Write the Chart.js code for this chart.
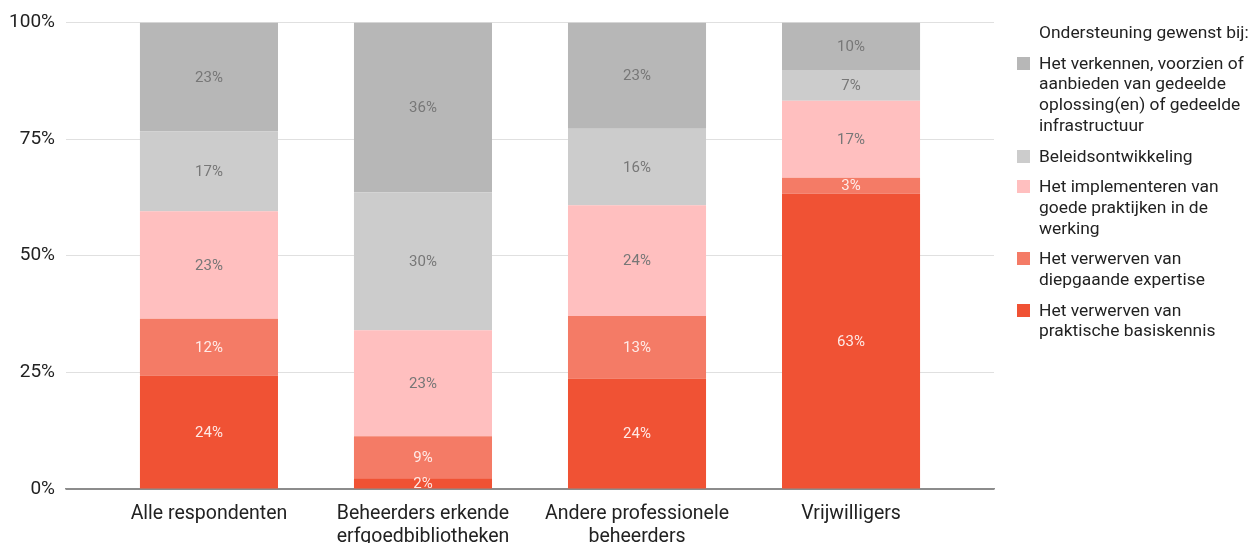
<!DOCTYPE html>
<html>
<head>
<meta charset="utf-8">
<script src="https://cdn.jsdelivr.net/npm/chart.js@4/dist/chart.umd.min.js"></script>
<style>
  html, body { margin: 0; padding: 0; background: #fff; }
  #wrap { position: relative; width: 1260px; height: 543px; overflow: hidden; }
  canvas { position: absolute; left: 0; top: 0; }
  #legend { position: absolute; left: 1015px; top: 22px; width: 245px; font-family: Roboto, sans-serif; font-size: 17.4px; line-height: 20.7px; color: #222; }
  #legend .title { margin-left: 24px; margin-bottom: 10px; white-space: nowrap; }
  #legend .item { position: relative; padding-left: 24px; margin-bottom: 10px; white-space: nowrap; }
  #legend .sw { position: absolute; left: 2px; top: 4px; width: 13px; height: 13px; }
</style>
</head>
<body>
<div id="wrap">
  <canvas id="c" width="1260" height="543"></canvas>
  <div id="legend"></div>
</div>
<script>
// Categories (x axis), split into display lines
const categories = [
  ['Alle respondenten'],
  ['Beheerders erkende', 'erfgoedbibliotheken'],
  ['Andere professionele', 'beheerders'],
  ['Vrijwilligers']
];
// Y tick values
const yTicks = [0, 25, 50, 75, 100];
const legendTitle = 'Ondersteuning gewenst bij:';

// Series values (percent), bottom to top
const basiskennis   = [24.3, 2.3, 23.7, 63.3];
const expertise     = [12.2, 9.0, 13.4, 3.4];
const implementeren = [23.0, 22.7, 23.7, 16.5];
const beleid        = [17.1, 29.6, 16.4, 6.6];
const verkennen     = [23.4, 36.4, 22.8, 10.2];

// Series names (legend lines)
const nameBasiskennis   = ['Het verwerven van', 'praktische basiskennis'];
const nameExpertise     = ['Het verwerven van', 'diepgaande expertise'];
const nameImplementeren = ['Het implementeren van', 'goede praktijken in de', 'werking'];
const nameBeleid        = ['Beleidsontwikkeling'];
const nameVerkennen     = ['Het verkennen, voorzien of', 'aanbieden van gedeelde', 'oplossing(en) of gedeelde', 'infrastructuur'];

const seriesDefs = [
  { name: nameBasiskennis,   values: basiskennis,   color: '#f05234', label: 'rgba(255,240,238,0.95)' },
  { name: nameExpertise,     values: expertise,     color: '#f47b66', label: 'rgba(255,240,238,0.95)' },
  { name: nameImplementeren, values: implementeren, color: '#ffbfbf', label: '#777777' },
  { name: nameBeleid,        values: beleid,        color: '#cccccc', label: '#777777' },
  { name: nameVerkennen,     values: verkennen,     color: '#b7b7b7', label: '#777777' }
];

const datasets = seriesDefs.map(s => ({
  label: s.name.join(' '),
  data: s.values.map((v, i) => ({ x: i, y: v })),
  backgroundColor: s.color,
  borderWidth: 0,
  labelColor: s.label,
  barPercentage: 1,
  categoryPercentage: 0.645
}));

// HTML legend (top to bottom = reverse stacking order)
const legendEl = document.getElementById('legend');
const t = document.createElement('div');
t.className = 'title';
t.textContent = legendTitle;
legendEl.appendChild(t);
seriesDefs.slice().reverse().forEach(s => {
  const it = document.createElement('div');
  it.className = 'item';
  const sw = document.createElement('span');
  sw.className = 'sw';
  sw.style.background = s.color;
  it.appendChild(sw);
  s.name.forEach((line, k) => {
    if (k > 0) it.appendChild(document.createElement('br'));
    it.appendChild(document.createTextNode(line));
  });
  legendEl.appendChild(it);
});

const valueLabels = {
  id: 'valueLabels',
  afterDatasetsDraw(chart) {
    const ctx = chart.ctx;
    ctx.save();
    ctx.font = '15px Roboto, sans-serif';
    ctx.textAlign = 'center';
    ctx.textBaseline = 'middle';
    chart.data.datasets.forEach((ds, di) => {
      const meta = chart.getDatasetMeta(di);
      meta.data.forEach((el, i) => {
        const v = ds.data[i].y;
        ctx.fillStyle = ds.labelColor;
        ctx.fillText(Math.round(v) + '%', el.x, (el.y + el.base) / 2 + 1);
      });
    });
    ctx.restore();
  }
};

Chart.defaults.font.family = 'Roboto, sans-serif';

new Chart(document.getElementById('c'), {
  type: 'bar',
  data: { datasets },
  plugins: [valueLabels],
  options: {
    responsive: false,
    animation: false,
    layout: { padding: { left: 10, top: 18, right: 266, bottom: 0 } },
    plugins: { legend: { display: false }, tooltip: { enabled: false } },
    scales: {
      x: {
        type: 'linear',
        stacked: true,
        offset: false,
        min: -0.668,
        max: categories.length - 1 + 0.668,
        afterBuildTicks(scale) { scale.ticks = categories.map((_, i) => ({ value: i })); },
        afterFit(scale) { scale.height = 54; },
        grid: { display: false, drawTicks: false, offset: false },
        border: { display: true, color: '#8c8c8c', width: 1.5 },
        ticks: {
          color: '#222',
          font: { size: 19.5, lineHeight: 1.18 },
          padding: 14,
          maxRotation: 0,
          autoSkip: false,
          callback: (v) => categories[v]
        }
      },
      y: {
        stacked: true,
        min: 0,
        max: 100,
        afterBuildTicks(scale) { scale.ticks = yTicks.map(v => ({ value: v })); },
        afterFit(scale) { scale.width = 56; },
        grid: {
          drawTicks: false,
          color: (c) => c.tick && c.tick.value === 0 ? '#8c8c8c' : '#e0e0e0'
        },
        border: { display: false },
        ticks: {
          color: '#222',
          font: { size: 19 },
          padding: 11,
          callback: (v) => v + '%'
        }
      }
    }
  }
});
</script>
</body>
</html>
